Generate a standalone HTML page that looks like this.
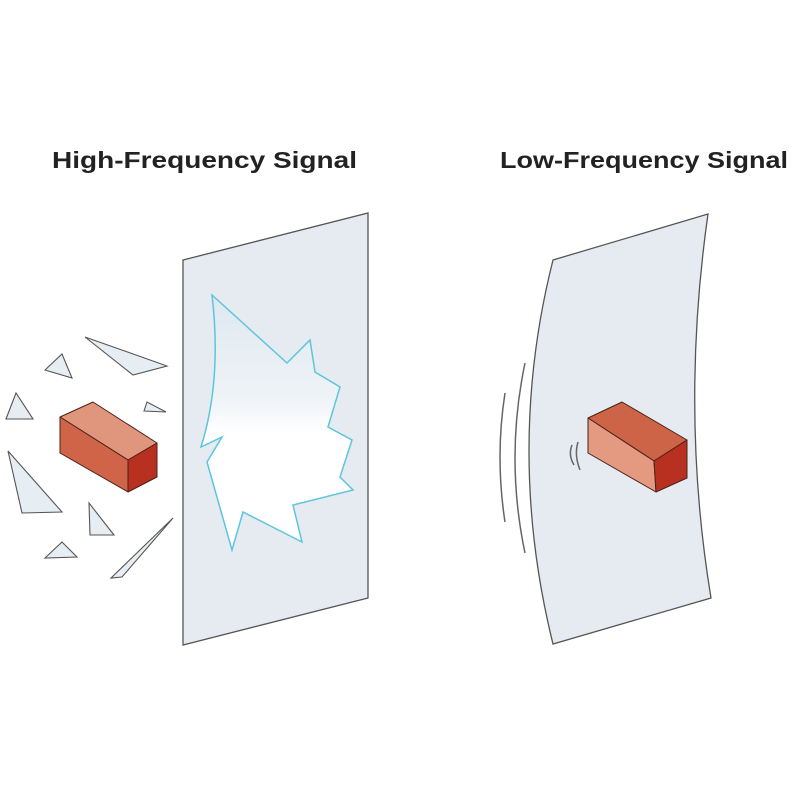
<!DOCTYPE html>
<html><head><style>html,body{margin:0;padding:0;background:#fff}svg{display:block}</style></head>
<body>
<svg width="800" height="800" viewBox="0 0 800 800" xmlns="http://www.w3.org/2000/svg">
<defs>
<linearGradient id="hg" x1="0" y1="0" x2="0" y2="1">
<stop offset="0" stop-color="#dfe8f0"/><stop offset="0.4" stop-color="#eef3f7"/><stop offset="0.55" stop-color="#fff"/><stop offset="1" stop-color="#fff"/>
</linearGradient>
</defs>
<g font-family="Liberation Sans, sans-serif" font-weight="bold" font-size="23" fill="#222">
<text x="52" y="168" textLength="305" lengthAdjust="spacingAndGlyphs">High-Frequency Signal</text>
<text x="500" y="168" textLength="288" lengthAdjust="spacingAndGlyphs">Low-Frequency Signal</text>
</g>
<!-- left pane -->
<polygon points="183,260 368,213 368,598 183,645" fill="#e5ebf0" stroke="#555" stroke-width="1.3"/>
<path d="M212,295 L287,363 L310,340 L315,372 L340,387 L328,427 L352,440 L340,477 L353,490 L293,505 L302,542 L243,512 L232,550 L207,462 L222,437 L201,447 Q222,380 212,295 Z" fill="url(#hg)" stroke="#5cc6dc" stroke-width="1.5"/>
<!-- shards -->
<g fill="#e6edf3" stroke="#555" stroke-width="1.1">
<polygon points="85,337 167,366 133,375"/>
<polygon points="45,370 62,354 72,378"/>
<polygon points="6,419 16,393 33,419"/>
<polygon points="144,411 147,402 166,412"/>
<polygon points="8,451 62,512 22,513"/>
<polygon points="89,503 114,535 90,535"/>
<polygon points="45,558 62,542 77,557"/>
<polygon points="111,578 173,518 122,577"/>
</g>
<!-- left brick -->
<g stroke="#4a2218" stroke-width="1" stroke-linejoin="round">
<polygon points="60,417 93,402 157,443 128,460" fill="#e0967c"/>
<polygon points="60,417 128,460 128,492 60,453" fill="#cf6448"/>
<polygon points="128,460 157,443 157,477 128,492" fill="#b8301f"/>
</g>
<!-- right pane -->
<path d="M553,260 L708,214 Q680,410 711,598 L553,644 Q505,450 553,260 Z" fill="#e5ebf0" stroke="#555" stroke-width="1.3"/>
<g fill="none" stroke="#666" stroke-width="1.5">
<path d="M505,393 Q495,457 505,522"/>
<path d="M525,363 Q505,458 525,553"/>
<path d="M572,445 Q568,455 574,465"/>
<path d="M578,442 Q574,455 580,470"/>
</g>
<g stroke="#4a2218" stroke-width="1" stroke-linejoin="round">
<polygon points="588,418 622,402 687,440 654,461" fill="#cd6448"/>
<polygon points="588,418 654,461 656,492 588,453" fill="#e39a80"/>
<polygon points="654,461 687,440 687,478 656,492" fill="#b8301f"/>
</g>
</svg>
</body></html>
